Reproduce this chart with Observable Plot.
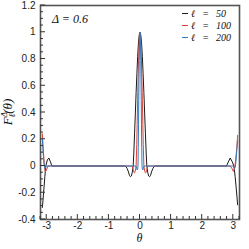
<!DOCTYPE html>
<html><head><meta charset="utf-8">
<script src="https://cdn.jsdelivr.net/npm/d3@7"></script>
<script src="https://cdn.jsdelivr.net/npm/@observablehq/plot@0.6"></script>
<style>body{margin:0;background:#fff} svg{display:block}</style>
</head><body><div id="chart"></div>
<script>
// ℓ = 50
const theta50 = [-3.14,-3.1,-3.06,-3.03,-2.98,-2.93,-2.88,-2.83,
 -0.5,-0.45,-0.41,-0.37,-0.34,-0.31,-0.28,-0.25,-0.22,-0.2,-0.175,-0.15,-0.125,-0.1,-0.075,-0.05,-0.025,
 0,
 0.025,0.05,0.075,0.1,0.125,0.15,0.175,0.2,0.22,0.25,0.28,0.31,0.34,0.37,0.41,0.45,0.5,
 2.78,2.84,2.9,2.96,3.02,3.06,3.1,3.14];
const F50 = [-0.31,-0.2,-0.08,0,0.045,0.06,0.03,0,
 0,-0.005,-0.02,-0.045,-0.07,-0.08,-0.075,-0.05,0,0.09,0.24,0.39,0.55,0.69,0.82,0.92,0.98,
 1,
 0.98,0.92,0.82,0.69,0.55,0.39,0.24,0.09,0,-0.05,-0.075,-0.08,-0.07,-0.045,-0.02,-0.005,0,
 0,0.03,0.06,0.035,0,-0.08,-0.18,-0.29];
// ℓ = 100
const theta100 = [-3.14,-3.11,-3.08,-3.05,-3.01,-2.96,
 -0.3,-0.26,-0.235,-0.21,-0.19,-0.17,-0.145,-0.125,-0.105,-0.09,-0.075,-0.06,-0.045,-0.03,-0.015,
 0,
 0.015,0.03,0.045,0.06,0.075,0.09,0.105,0.125,0.145,0.17,0.19,0.21,0.235,0.26,0.3,
 2.9,2.95,3.0,3.04,3.08,3.11,3.14];
const F100 = [0.24,0.12,0.02,-0.045,-0.03,0,
 0,0,-0.015,-0.035,-0.05,-0.05,-0.03,0,0.16,0.33,0.5,0.66,0.8,0.91,0.975,
 1,
 0.975,0.91,0.8,0.66,0.5,0.33,0.16,0,-0.03,-0.05,-0.05,-0.035,-0.015,0,0,
 0,-0.015,-0.04,-0.02,0.05,0.13,0.23];
// ℓ = 200
const theta200 = [-3.14,-3.11,-3.08,-3.06,-3.03,-3.0,
 -0.2,-0.135,-0.12,-0.105,-0.09,-0.077,-0.065,-0.056,-0.048,-0.04,-0.032,-0.024,-0.016,-0.008,
 0,
 0.008,0.016,0.024,0.032,0.04,0.048,0.056,0.065,0.077,0.09,0.105,0.12,0.135,0.2,
 3.0,3.04,3.07,3.1,3.14];
const F200 = [0.2,0.08,0,-0.02,-0.005,0,
 0,0,-0.008,-0.02,-0.03,-0.025,0,0.14,0.31,0.49,0.65,0.79,0.905,0.975,
 1,
 0.975,0.905,0.79,0.65,0.49,0.31,0.14,0,-0.025,-0.03,-0.02,-0.008,0,0,
 0,-0.02,0,0.08,0.19];

const legendLabels = ["ℓ = 50","ℓ = 100","ℓ = 200"];
const colors = ["#1a1a1a","#d9453d","#2f7bbf"];
const xTicks = [-3,-2,-1,0,1,2,3];
const yTicks = [-0.4,-0.2,0,0.2,0.4,0.6,0.8,1,1.2];

const toRows = (t, f) => t.map((v, i) => ({theta: v, F: f[i]}));
const series = [toRows(theta50, F50), toRows(theta100, F100), toRows(theta200, F200)];

const plot = Plot.plot({
  width: 249, height: 249,
  marginLeft: 40, marginRight: 10, marginTop: 5, marginBottom: 30,
  style: {background: "#fff", fontFamily: "'Liberation Sans', Arial, sans-serif", fontSize: "10px", color: "#222"},
  x: {domain: [-3.2, 3.2]},
  y: {domain: [-0.4, 1.2]},
  marks: [
    Plot.axisX(xTicks, {tickSize: 0, tickPadding: 2, tickFormat: d => String(d), label: null}),
    Plot.axisY(yTicks, {tickSize: 0, tickPadding: 5, tickFormat: d => String(d), label: null}),
    ...series.map((s, i) => Plot.line(s, {x: "theta", y: "F", stroke: colors[i], strokeWidth: 1})),
    Plot.frame({stroke: "#555", strokeWidth: 1.6})
  ]
});
document.getElementById("chart").appendChild(plot);

const sx = plot.scale("x"), sy = plot.scale("y");
const svg = d3.select(plot);
const x0 = sx.apply(-3.2), yb = sy.apply(-0.4);
const g = svg.append("g").attr("stroke", "#333").attr("stroke-width", 1);
d3.range(-16, 17).forEach(k => {
  const v = k / 5, major = k % 5 === 0 && Math.abs(k) <= 15;
  const px = sx.apply(v);
  g.append("line").attr("x1", px).attr("x2", px).attr("y1", yb).attr("y2", yb - (major ? 5 : 3));
});
d3.range(-8, 25).forEach(k => {
  const v = k / 20, major = k % 4 === 0;
  const py = sy.apply(v);
  g.append("line").attr("y1", py).attr("y2", py).attr("x1", x0).attr("x2", x0 + (major ? 5 : 3));
});

const serif = "'Liberation Serif', 'DejaVu Serif', serif";
svg.append("text").attr("x", 52).attr("y", 23).attr("text-anchor", "start").attr("font-family", serif).attr("font-style", "italic")
  .attr("font-size", 12).attr("fill", "#111").text("Δ = 0.6");

legendLabels.forEach((lab, i) => {
  const y = 13.5 + 12 * i;
  svg.append("line").attr("x1", 182).attr("x2", 188).attr("y1", y).attr("y2", y)
    .attr("stroke", colors[i]).attr("stroke-width", 1);
  svg.append("text").attr("x", 191).attr("y", y + 3.5).attr("text-anchor", "start").attr("font-family", serif).attr("font-style", "italic")
    .attr("font-size", 10).attr("fill", "#111").attr("xml:space", "preserve").text(lab.replace(/ /g, "\u2002\u2009"));
});

const yt = svg.append("text").attr("transform", "translate(12,112) rotate(-90)").attr("text-anchor", "middle")
  .attr("font-family", serif).attr("font-style", "italic").attr("font-size", 13).attr("fill", "#111");
yt.append("tspan").text("F");
yt.append("tspan").attr("font-size", 9).attr("dy", -5).text("Δ");
yt.append("tspan").attr("font-size", 9).attr("dx", -5.5).attr("dy", 8).text("ℓ");
yt.append("tspan").attr("dy", -3).text("(θ)");

svg.append("text").attr("x", 139.5).attr("y", 241.5).attr("text-anchor", "middle")
  .attr("font-family", serif).attr("font-style", "italic").attr("font-size", 12).attr("fill", "#111").text("θ");
</script>
</body></html>
